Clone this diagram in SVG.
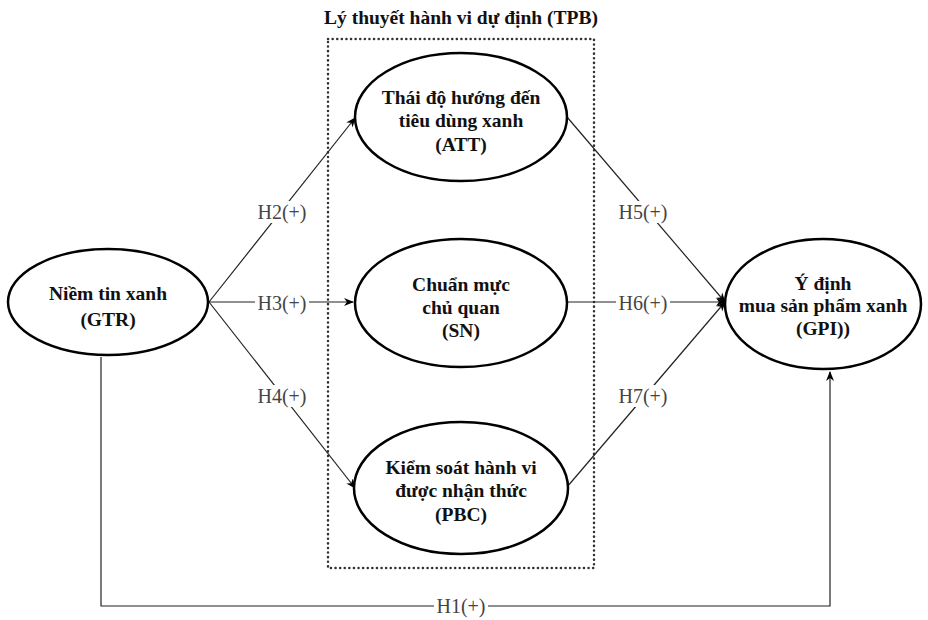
<svg xmlns="http://www.w3.org/2000/svg" width="928" height="620" viewBox="0 0 928 620">
<defs>
<marker id="arr" viewBox="0 0 10 10" refX="9" refY="5" markerWidth="10" markerHeight="10" markerUnits="userSpaceOnUse" orient="auto">
<path d="M0,1 L10,5 L0,9 L3,5 Z" fill="#000"/>
</marker>
<style>
.node{fill:#fff;stroke:#000;stroke-width:2.5}
.nt{font-family:"Liberation Serif","Times New Roman",serif;font-size:19.5px;font-weight:bold;fill:#111;text-anchor:middle}
.edge{fill:none;stroke:#222;stroke-width:1.2}
.lb{font-family:"Liberation Serif","Times New Roman",serif;font-size:20px;fill:#444;text-anchor:middle}
.lbg{fill:#fff}
</style>
</defs>
<rect width="928" height="620" fill="#fff"/>
<g id="tpb-box">
<rect x="328" y="39" width="266" height="529" fill="none" stroke="#333" stroke-width="2.5" stroke-dasharray="0.1 4.5" stroke-linecap="round"/>
<text class="nt" x="461" y="24">Lý thuyết hành vi dự định (TPB)</text>
</g>
<g id="connectors">
<polyline class="edge" points="101,357 101,606 830,606 830,372" marker-end="url(#arr)"/>
<line class="edge" x1="209" y1="302" x2="355" y2="118" marker-end="url(#arr)"/>
<line class="edge" x1="209" y1="302" x2="353" y2="302" marker-end="url(#arr)"/>
<line class="edge" x1="209" y1="302" x2="355" y2="488" marker-end="url(#arr)"/>
<line class="edge" x1="567" y1="117" x2="725" y2="302" marker-end="url(#arr)"/>
<line class="edge" x1="568" y1="302" x2="725" y2="302" marker-end="url(#arr)"/>
<line class="edge" x1="567" y1="487" x2="725" y2="302" marker-end="url(#arr)"/>
<rect class="lbg" x="255" y="201" width="54" height="22"/>
<text class="lb" x="282" y="219">H2(+)</text>
<rect class="lbg" x="255" y="292" width="54" height="22"/>
<text class="lb" x="282" y="310">H3(+)</text>
<rect class="lbg" x="255" y="385" width="54" height="22"/>
<text class="lb" x="282" y="403">H4(+)</text>
<rect class="lbg" x="616" y="201" width="54" height="22"/>
<text class="lb" x="643" y="219">H5(+)</text>
<rect class="lbg" x="616" y="292" width="54" height="22"/>
<text class="lb" x="643" y="310">H6(+)</text>
<rect class="lbg" x="616" y="385" width="54" height="22"/>
<text class="lb" x="643" y="403">H7(+)</text>
<rect class="lbg" x="434" y="595" width="54" height="22"/>
<text class="lb" x="461" y="613">H1(+)</text>
</g>
<g id="GTR">
<ellipse class="node" cx="108" cy="302" rx="100" ry="53"/>
<text class="nt" x="108" y="300">Niềm tin xanh</text>
<text class="nt" x="108" y="326">(GTR)</text>
</g>
<g id="ATT">
<ellipse class="node" cx="461" cy="117" rx="106" ry="64"/>
<text class="nt" x="461" y="104">Thái độ hướng đến</text>
<text class="nt" x="461" y="127">tiêu dùng xanh</text>
<text class="nt" x="461" y="151">(ATT)</text>
</g>
<g id="SN">
<ellipse class="node" cx="461" cy="303" rx="106" ry="64"/>
<text class="nt" x="461" y="291">Chuẩn mực</text>
<text class="nt" x="461" y="314">chủ quan</text>
<text class="nt" x="461" y="337">(SN)</text>
</g>
<g id="PBC">
<ellipse class="node" cx="461" cy="488" rx="107" ry="66"/>
<text class="nt" x="461" y="474">Kiểm soát hành vi</text>
<text class="nt" x="461" y="497">được nhận thức</text>
<text class="nt" x="461" y="521">(PBC)</text>
</g>
<g id="GPI">
<ellipse class="node" cx="823" cy="304" rx="98" ry="65"/>
<text class="nt" x="823" y="290">Ý định</text>
<text class="nt" x="823" y="312">mua sản phẩm xanh</text>
<text class="nt" x="823" y="335">(GPI))</text>
</g>
</svg>
